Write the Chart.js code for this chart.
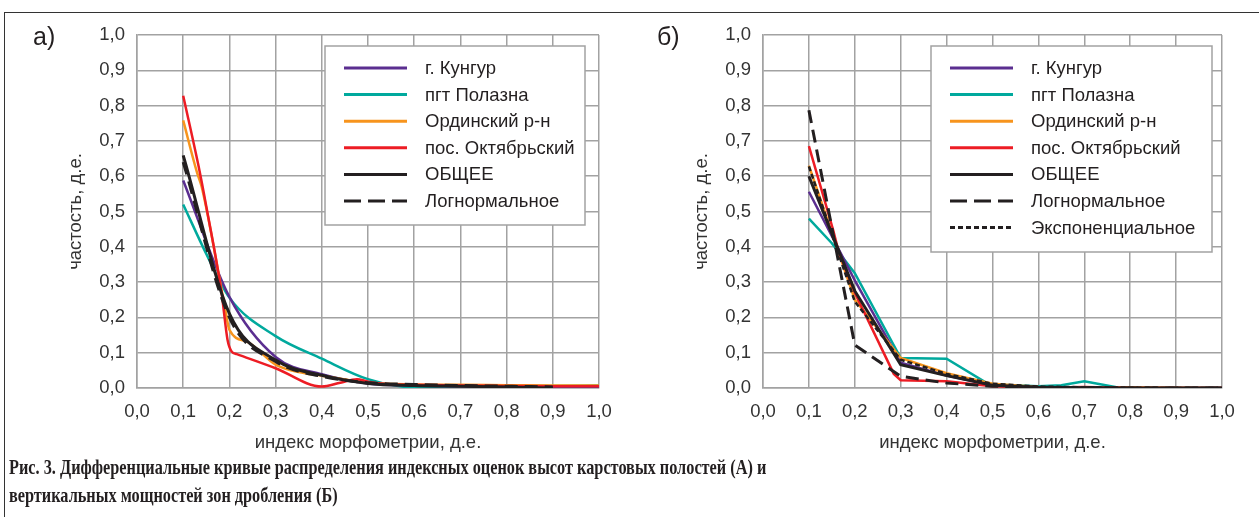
<!DOCTYPE html>
<html>
<head>
<meta charset="utf-8">
<script src="https://cdn.jsdelivr.net/npm/chart.js@4.4.0/dist/chart.umd.min.js"></script>
<style>
  body { margin: 0; background: #fff; width: 1259px; height: 517px; overflow: hidden; position: relative;
         font-family: "Liberation Sans", Arial, sans-serif; }
  .frame { position: absolute; left: 4px; top: 12px; width: 1260px; height: 510px;
           border-top: 1.5px solid #333; border-left: 1.5px solid #333; }
  .plot { position: absolute; top: 0; }
  .tag { position: absolute; top: 22px; font-size: 25px; color: #231f20; }
  .caption { position: absolute; left: 9px; top: 453px; font-family: "Liberation Serif", "Times New Roman", serif;
             font-weight: bold; font-size: 21px; line-height: 28px; color: #231f20; white-space: nowrap;
             transform: scaleX(0.775); transform-origin: left top; }
</style>
</head>
<body>
<div class="frame"></div>
<canvas id="chartA" class="plot" style="left:0" width="625" height="460"></canvas>
<canvas id="chartB" class="plot" style="left:626px" width="634" height="460"></canvas>
<div class="tag" style="left:33px">а)</div>
<div class="tag" style="left:657px">б)</div>
<div class="caption">Рис. 3. Дифференциальные кривые распределения индексных оценок высот карстовых полостей (А) и<br>вертикальных мощностей зон дробления (Б)</div>
<script>
// подписи
const seriesNames = ['г. Кунгур', 'пгт Полазна', 'Ординский р-н', 'пос. Октябрьский', 'ОБЩЕЕ', 'Логнормальное', 'Экспоненциальное'];
const xTitle = 'индекс морфометрии, д.е.';
const yTitle = 'частость, д.е.';

// а) высоты карстовых полостей: [индекс, частость]
const kungurA = [[0.1, 0.588], [0.2, 0.258], [0.3, 0.088], [0.4, 0.039], [0.5, 0.013], [0.6, 0.007], [0.7, 0.005], [0.8, 0.004], [0.9, 0.002], [1.0, 0.0]];
const polaznaA = [[0.1, 0.52], [0.15, 0.38], [0.2, 0.256], [0.3, 0.147], [0.4, 0.083], [0.5, 0.025], [0.6, 0.002], [0.7, 0.005], [0.8, 0.006], [0.9, 0.006], [1.0, 0.007]];
const ordaA = [[0.1, 0.758], [0.13, 0.61], [0.14, 0.57], [0.19, 0.23], [0.2, 0.165], [0.24, 0.13], [0.3, 0.066], [0.35, 0.045], [0.4, 0.035], [0.5, 0.015], [0.6, 0.01], [0.7, 0.009], [0.8, 0.008], [0.9, 0.007], [1.0, 0.007]];
const oktA = [[0.1, 0.828], [0.133, 0.63], [0.15, 0.514], [0.183, 0.27], [0.196, 0.136], [0.205, 0.103], [0.216, 0.096], [0.3, 0.056], [0.4, 0.004], [0.44, 0.015], [0.476, 0.025], [0.5, 0.018], [0.54, 0.011], [0.6, 0.009], [0.7, 0.007], [0.8, 0.006], [0.9, 0.005], [1.0, 0.005]];
const totalA = [[0.1, 0.659], [0.2, 0.211], [0.3, 0.079], [0.4, 0.036], [0.5, 0.013], [0.6, 0.007], [0.7, 0.005], [0.8, 0.003], [0.9, 0.0]];
const lognA = [[0.1, 0.64], [0.2, 0.2], [0.3, 0.075], [0.4, 0.033], [0.5, 0.015], [0.6, 0.01], [0.7, 0.007], [0.8, 0.005], [0.9, 0.003]];

// б) мощности зон дробления
const kungurB = [[0.1, 0.556], [0.2, 0.305], [0.3, 0.072], [0.4, 0.035], [0.5, 0.008], [0.6, 0.0], [0.7, 0.0], [0.8, 0.0], [0.9, 0.0], [1.0, 0.0]];
const polaznaB = [[0.1, 0.48], [0.15, 0.41], [0.2, 0.325], [0.3, 0.085], [0.4, 0.083], [0.485, 0.016], [0.5, 0.01], [0.6, 0.005], [0.65, 0.008], [0.7, 0.019], [0.77, 0.002], [0.8, 0.0], [0.9, 0.0], [1.0, 0.0]];
const ordaB = [[0.1, 0.63], [0.2, 0.25], [0.3, 0.085], [0.4, 0.042], [0.5, 0.012], [0.6, 0.003], [0.7, 0.002], [0.8, 0.002], [0.9, 0.001], [1.0, 0.0]];
const oktB = [[0.1, 0.685], [0.153, 0.447], [0.164, 0.39], [0.2, 0.27], [0.285, 0.04], [0.3, 0.022], [0.4, 0.019], [0.5, 0.005], [0.6, 0.001], [0.7, 0.003], [0.8, 0.0], [0.9, 0.0], [1.0, 0.0]];
const totalB = [[0.1, 0.6], [0.2, 0.275], [0.3, 0.066], [0.4, 0.035], [0.5, 0.008], [0.6, 0.002], [0.7, 0.001], [0.8, 0.0], [0.9, 0.0], [1.0, 0.0]];
const lognB = [[0.1, 0.787], [0.2, 0.122], [0.3, 0.033], [0.4, 0.014], [0.5, 0.005], [0.6, 0.002], [0.7, 0.001], [0.8, 0.0], [0.9, 0.0], [1.0, 0.0]];
const expB = [[0.1, 0.628], [0.2, 0.245], [0.3, 0.08], [0.4, 0.04], [0.5, 0.012], [0.6, 0.004], [0.7, 0.002], [0.8, 0.001], [0.9, 0.0], [1.0, 0.0]];

const FONT = '"Liberation Sans", Arial, sans-serif';
const FSIZE = 18.5;
const TEXT = '#231f20';
const GRID = '#a2a2a2';

const styles = [
  { color: '#5b2e90', width: 2.5, order: 5 },
  { color: '#00a99d', width: 2.5, order: 6 },
  { color: '#f7941d', width: 2.5, order: 4 },
  { color: '#ed1c24', width: 2.5, order: 3 },
  { color: '#231f20', width: 3, order: 1 },
  { color: '#231f20', width: 3, order: 2, dash: [13, 7], legendDash: [17, 7] },
  { color: '#231f20', width: 2.5, order: 0, dash: [5, 3], legendDash: [5, 3] }
];

/**
 * легенда в рамке внутри поля графика
 */
const boxLegend = {
  id: 'boxLegend',
  afterDatasetsDraw(chart, args, opts) {
    const { ctx } = chart;
    const { x, y, w, h } = opts;
    ctx.save();
    ctx.fillStyle = '#fff';
    ctx.fillRect(x, y, w, h);
    ctx.strokeStyle = GRID;
    ctx.lineWidth = 1.5;
    ctx.strokeRect(x, y, w, h);
    ctx.font = FSIZE + 'px ' + FONT;
    ctx.textBaseline = 'middle';
    chart.data.datasets.forEach((ds, i) => {
      const rowY = y + 22 + i * 26.6;
      ctx.beginPath();
      ctx.setLineDash(ds.legendDash || []);
      ctx.strokeStyle = ds.borderColor;
      ctx.lineWidth = 3;
      ctx.moveTo(x + 19, rowY);
      ctx.lineTo(x + 82, rowY);
      ctx.stroke();
      ctx.setLineDash([]);
      ctx.fillStyle = TEXT;
      ctx.fillText(ds.label, x + 100, rowY + 1);
    });
    ctx.restore();
  }
};

const toPoints = arr => arr.map(p => ({ x: p[0], y: p[1] }));
const fmt = v => Number(v).toFixed(1).replace('.', ',');

const makeDatasets = (list, smooth) => list.map((arr, i) => {
  const s = styles[i];
  return {
    label: seriesNames[i],
    data: toPoints(arr),
    borderColor: s.color,
    borderWidth: s.width,
    borderDash: s.dash || [],
    legendDash: s.legendDash,
    order: s.order,
    pointRadius: 0,
    fill: false,
    cubicInterpolationMode: smooth ? 'monotone' : 'default',
    tension: 0,
    borderCapStyle: 'butt'
  };
});

const makeConfig = (datasets, legendBox, rightPad) => ({
  type: 'line',
  data: { datasets },
  options: {
    responsive: false,
    animation: false,
    layout: { padding: { top: 35, right: rightPad, left: 0, bottom: 0 } },
    plugins: { legend: { display: false }, tooltip: { enabled: false }, boxLegend: legendBox },
    scales: {
      x: {
        type: 'linear', min: 0, max: 1,
        afterFit(scale) { scale.height = 72; },
        ticks: { stepSize: 0.1, callback: fmt, color: '#333', padding: 13, maxRotation: 0, font: { size: FSIZE, family: FONT } },
        grid: { color: GRID, lineWidth: 1.5, drawTicks: false },
        border: { color: GRID, width: 1.5 },
        title: { display: true, text: xTitle, color: '#333', padding: { top: 4, bottom: 6 }, font: { size: FSIZE, family: FONT } }
      },
      y: {
        type: 'linear', min: 0, max: 1,
        afterFit(scale) { scale.width = 137; },
        ticks: { stepSize: 0.1, callback: fmt, color: '#333', padding: 12, font: { size: FSIZE, family: FONT } },
        grid: { color: GRID, lineWidth: 1.5, drawTicks: false },
        border: { color: GRID, width: 1.5 },
        title: { display: true, text: yTitle, color: '#333', padding: { top: 65, bottom: 0 }, font: { size: FSIZE, family: FONT } }
      }
    }
  },
  plugins: [boxLegend]
});

new Chart(document.getElementById('chartA'),
  makeConfig(makeDatasets([kungurA, polaznaA, ordaA, oktA, totalA, lognA], true), { x: 325, y: 46, w: 260, h: 179 }, 26));
new Chart(document.getElementById('chartB'),
  makeConfig(makeDatasets([kungurB, polaznaB, ordaB, oktB, totalB, lognB, expB], false), { x: 305, y: 46, w: 281, h: 206 }, 38));
</script>
</body>
</html>
